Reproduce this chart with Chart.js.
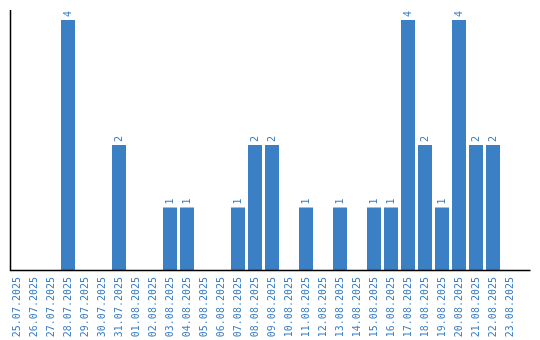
<!DOCTYPE html>
<html><head><meta charset="utf-8">
<script src="https://cdn.jsdelivr.net/npm/chart.js@4/dist/chart.umd.min.js"></script>
<style>html,body{margin:0;padding:0;background:#fff}#wrap{width:540px;height:340px}</style>
</head><body><div id="wrap"><canvas id="c" width="540" height="340"></canvas></div>
<script>
const categories = ["25.07.2025","26.07.2025","27.07.2025","28.07.2025","29.07.2025","30.07.2025","31.07.2025","01.08.2025","02.08.2025","03.08.2025","04.08.2025","05.08.2025","06.08.2025","07.08.2025","08.08.2025","09.08.2025","10.08.2025","11.08.2025","12.08.2025","13.08.2025","14.08.2025","15.08.2025","16.08.2025","17.08.2025","18.08.2025","19.08.2025","20.08.2025","21.08.2025","22.08.2025","23.08.2025"];
const counts = [0,0,0,4,0,0,2,0,0,1,1,0,0,1,2,2,0,1,0,1,0,1,1,4,2,1,4,2,2,0];

const BLUE = 'rgb(59,127,196)';
const FONT = '"DejaVu Sans Mono", monospace';

const decor = {
  id: 'decor',
  afterDatasetsDraw(chart) {
    const ctx = chart.ctx;
    const meta = chart.getDatasetMeta(0);
    ctx.save();
    ctx.fillStyle = BLUE;
    ctx.font = '10px ' + FONT;
    ctx.textAlign = 'left';
    ctx.textBaseline = 'middle';
    meta.data.forEach((bar, i) => {
      const v = counts[i];
      if (!v) return;
      ctx.save();
      ctx.translate(bar.x, bar.y - 3);
      ctx.rotate(-Math.PI / 2);
      ctx.fillText(String(v), 0, 0);
      ctx.restore();
    });
    // axis lines
    const a = chart.chartArea;
    ctx.strokeStyle = '#000';
    ctx.lineWidth = 1.5;
    ctx.beginPath();
    ctx.moveTo(10.5, a.top);
    ctx.lineTo(10.5, a.bottom + 0.5);
    ctx.lineTo(530.5, a.bottom + 0.5);
    ctx.stroke();
    ctx.restore();
  }
};

new Chart(document.getElementById('c'), {
  type: 'bar',
  data: {
    labels: categories,
    datasets: [{
      data: counts,
      backgroundColor: BLUE,
      borderWidth: 0,
      barPercentage: 1,
      categoryPercentage: 14/17
    }]
  },
  options: {
    responsive: false,
    animation: false,
    events: [],
    layout: { padding: { left: 8.5, right: 21.5, top: 10, bottom: 0 } },
    plugins: { legend: { display: false }, tooltip: { enabled: false } },
    scales: {
      x: {
        offset: true,
        grid: { display: false, drawTicks: false },
        border: { display: false },
        ticks: {
          minRotation: 90, maxRotation: 90, autoSkip: false,
          color: BLUE, padding: 7,
          font: { family: FONT, size: 10 }
        },
        afterFit(s) { s.height = 70; }
      },
      y: {
        display: false,
        min: 0, max: 4.16
      }
    }
  },
  plugins: [decor]
});
</script>
</body></html>
